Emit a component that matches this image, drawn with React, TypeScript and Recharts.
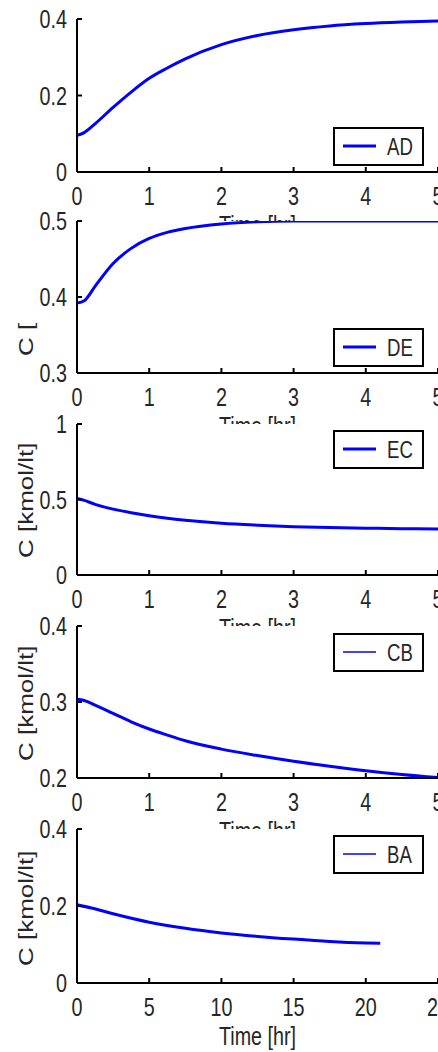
import React from 'react';
import { LineChart, Line, XAxis, YAxis, Legend } from 'recharts';

// ---------- data ----------
const timeShort = [0, 0.1, 0.25, 0.5, 0.75, 1, 1.25, 1.5, 2, 2.5, 3, 3.5, 4, 4.5, 5];
const timeLong = [0, 1, 2.5, 5, 7.5, 10, 12.5, 15, 17.5, 20, 21];

const concAD = [0.096, 0.103, 0.126, 0.169, 0.209, 0.245, 0.272, 0.296, 0.333, 0.357, 0.372, 0.382, 0.388, 0.392, 0.395];
const concDE = [0.392, 0.395, 0.414, 0.444, 0.464, 0.477, 0.485, 0.49, 0.496, 0.499, 0.5, 0.5, 0.5, 0.5, 0.5];
const concEC = [0.507, 0.494, 0.468, 0.436, 0.412, 0.392, 0.376, 0.363, 0.343, 0.33, 0.32, 0.314, 0.31, 0.307, 0.305];
const concCB = [0.3035, 0.302, 0.296, 0.285, 0.274, 0.2645, 0.2565, 0.249, 0.238, 0.2295, 0.222, 0.2155, 0.2095, 0.2045, 0.2005];
const concBA = [0.203, 0.195, 0.18, 0.158, 0.142, 0.13, 0.121, 0.114, 0.108, 0.104, 0.103];

const xTicksShort = [0, 1, 2, 3, 4, 5];
const xTicksLong = [0, 5, 10, 15, 20, 25];

const yTicksAD = [0, 0.2, 0.4];
const yTicksDE = [0.3, 0.4, 0.5];
const yTicksEC = [0, 0.5, 1];
const yTicksCB = [0.2, 0.3, 0.4];
const yTicksBA = [0, 0.2, 0.4];

const seriesNames = ['AD', 'DE', 'EC', 'CB', 'BA'];
const yAxisLabels = ['', 'C [', 'C [kmol/lt]', 'C [kmol/lt]', 'C [kmol/lt]'];
const xAxisLabel = 'Time [hr]';

// ---------- style / layout ----------
const FONT = '"Liberation Sans", Arial, Helvetica, sans-serif';
const FS = 26;
const SX = 0.76;
const TXT = '#262626';
const BLUE = '#0000ff';
const MT = 16;
const BOTTOM_H = 72;
const PLOT_LEFT = 77;
const PLOT_RIGHT = 438;
const CHART_W = 460;

type Panel = {
  name: string;
  times: number[];
  values: number[];
  xMax: number;
  xTicks: number[];
  yDomain: [number, number];
  yTicks: number[];
  yLabel: string;
  plotTop: number;
  plotH: number;
  legendTop: number;
  legendLine: number;
};

const panels: Panel[] = [
  { name: seriesNames[0], times: timeShort, values: concAD, xMax: 5, xTicks: xTicksShort, yDomain: [0, 0.4], yTicks: yTicksAD, yLabel: yAxisLabels[0], plotTop: 19, plotH: 153, legendTop: 127, legendLine: 3 },
  { name: seriesNames[1], times: timeShort, values: concDE, xMax: 5, xTicks: xTicksShort, yDomain: [0.3, 0.5], yTicks: yTicksDE, yLabel: yAxisLabels[1], plotTop: 221, plotH: 152, legendTop: 328, legendLine: 3 },
  { name: seriesNames[2], times: timeShort, values: concEC, xMax: 5, xTicks: xTicksShort, yDomain: [0, 1], yTicks: yTicksEC, yLabel: yAxisLabels[2], plotTop: 424, plotH: 151, legendTop: 430, legendLine: 3 },
  { name: seriesNames[3], times: timeShort, values: concCB, xMax: 5, xTicks: xTicksShort, yDomain: [0.2, 0.4], yTicks: yTicksCB, yLabel: yAxisLabels[3], plotTop: 626, plotH: 152, legendTop: 633, legendLine: 1.6 },
  { name: seriesNames[4], times: timeLong, values: concBA, xMax: 25, xTicks: xTicksLong, yDomain: [0, 0.4], yTicks: yTicksBA, yLabel: yAxisLabels[4], plotTop: 829, plotH: 154, legendTop: 835, legendLine: 1.6 },
];

const EmptyTick = () => <g />;

function PanelChart({ p }: { p: Panel }) {
  const data = p.times.map((t, i) => ({ t, c: p.values[i] }));
  const chartH = MT + p.plotH + BOTTOM_H;
  const plotBottom = MT + p.plotH;
  const chartTop = p.plotTop - MT;

  const XTick = (props: any) => {
    const { x, payload } = props;
    return (
      <text
        transform={`translate(${x},${plotBottom + 33}) scale(${SX},1)`}
        textAnchor="middle"
        fontSize={FS}
        fontFamily={FONT}
        fill={TXT}
      >
        {String(payload.value)}
      </text>
    );
  };

  const YTick = (props: any) => {
    const { y, payload } = props;
    return (
      <text
        transform={`translate(${PLOT_LEFT - 10},${y + 9.3}) scale(${SX},1)`}
        textAnchor="end"
        fontSize={FS}
        fontFamily={FONT}
        fill={TXT}
      >
        {String(payload.value)}
      </text>
    );
  };

  const XLabel = () => (
    <text
      transform={`translate(${(PLOT_LEFT + PLOT_RIGHT) / 2},${plotBottom + 62}) scale(${SX},1)`}
      textAnchor="middle"
      fontSize={FS}
      fontFamily={FONT}
      fill={TXT}
    >
      {xAxisLabel}
    </text>
  );

  const YLabel = () =>
    p.yLabel ? (
      <text
        transform={`translate(33,${plotBottom - 17}) rotate(-90) scale(1,${SX})`}
        textAnchor="start"
        fontSize={FS}
        fontFamily={FONT}
        fill={TXT}
      >
        {p.yLabel}
      </text>
    ) : (
      <g />
    );

  const LegendBox = (props: any) => {
    const label = props?.payload?.[0]?.value ?? p.name;
    return (
      <div
        style={{
          width: 91,
          height: 39,
          boxSizing: 'border-box',
          border: '2px solid #000',
          background: '#fff',
        }}
      >
        <svg width={87} height={35} style={{ display: 'block' }}>
          <line x1={8} x2={41} y1={17} y2={17} stroke={BLUE} strokeWidth={p.legendLine} />
          <text
            transform={`translate(52,26) scale(${SX},1)`}
            fontSize={24.5}
            fontFamily={FONT}
            fill={TXT}
          >
            {label}
          </text>
        </svg>
      </div>
    );
  };

  const axisStroke = { stroke: '#000', strokeWidth: 2 };

  return (
    <div style={{ position: 'absolute', left: 0, top: chartTop, width: CHART_W, height: chartH }}>
      <div
        style={{
          position: 'absolute',
          left: PLOT_LEFT,
          top: MT,
          width: PLOT_RIGHT - PLOT_LEFT,
          height: p.plotH,
          background: '#fff',
        }}
      />
      <LineChart
        width={CHART_W}
        height={chartH}
        data={data}
        margin={{ top: MT, right: CHART_W - PLOT_RIGHT, bottom: 0, left: 0 }}
      >
        <XAxis
          dataKey="t"
          type="number"
          domain={[0, p.xMax]}
          ticks={p.xTicks}
          allowDataOverflow
          interval={0}
          height={BOTTOM_H}
          tickSize={-5}
          tickMargin={5}
          tick={XTick}
          axisLine={axisStroke}
          tickLine={axisStroke}
          label={{ content: XLabel }}
        />
        <XAxis
          xAxisId="top"
          orientation="top"
          dataKey="t"
          type="number"
          domain={[0, p.xMax]}
          ticks={p.xTicks}
          allowDataOverflow
          interval={0}
          height={0}
          tickSize={-5}
          tick={EmptyTick}
          axisLine={axisStroke}
          tickLine={axisStroke}
        />
        <YAxis
          type="number"
          domain={p.yDomain}
          ticks={p.yTicks}
          allowDataOverflow
          interval={0}
          width={PLOT_LEFT}
          tickSize={-5}
          tickMargin={15}
          tick={YTick}
          axisLine={axisStroke}
          tickLine={axisStroke}
          label={{ content: YLabel }}
        />
        <YAxis
          yAxisId="right"
          orientation="right"
          type="number"
          domain={p.yDomain}
          ticks={p.yTicks}
          allowDataOverflow
          interval={0}
          width={0}
          tickSize={-5}
          tick={EmptyTick}
          axisLine={axisStroke}
          tickLine={axisStroke}
        />
        <Legend
          layout="horizontal"
          verticalAlign="middle"
          align="center"
          content={LegendBox}
          wrapperStyle={{ left: 333, top: p.legendTop - chartTop, width: 91, height: 39 }}
        />
        <Line
          dataKey="c"
          name={p.name}
          type="monotone"
          stroke={BLUE}
          strokeWidth={3}
          dot={false}
          activeDot={false}
          isAnimationActive={false}
        />
      </LineChart>
    </div>
  );
}

export default function App() {
  return (
    <div
      style={{
        position: 'absolute',
        left: 0,
        top: 0,
        width: 438,
        height: 1052,
        overflow: 'hidden',
        background: '#fff',
      }}
    >
      {panels.map((p) => (
        <PanelChart key={p.name} p={p} />
      ))}
    </div>
  );
}
